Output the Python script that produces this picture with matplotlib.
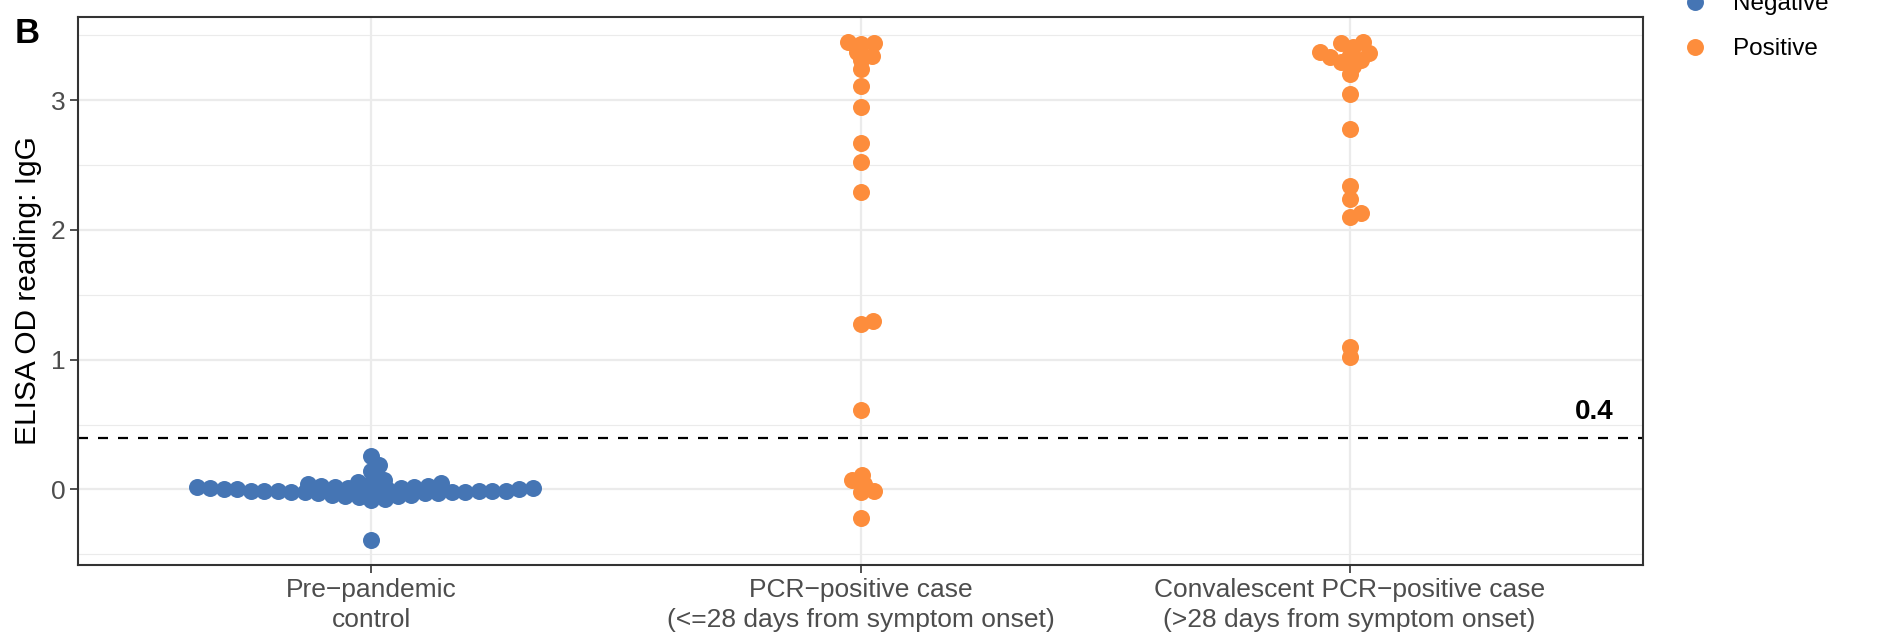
import matplotlib
matplotlib.use('Agg')
import matplotlib.pyplot as plt
from matplotlib.lines import Line2D
import numpy as np

plt.rcParams['font.family'] = ['Liberation Sans', 'DejaVu Sans']

groups = ['Pre\u2212pandemic\ncontrol',
          'PCR\u2212positive case\n(<=28 days from symptom onset)',
          'Convalescent PCR\u2212positive case\n(>28 days from symptom onset)']
status = ['Negative', 'Positive', 'Positive']

prepandemic = [-0.39, -0.08, -0.07, -0.06, -0.05, -0.05, -0.04, -0.04, -0.03, -0.03,
               -0.03, -0.02, -0.02, -0.02, -0.02, -0.02, -0.01, -0.01, -0.01, -0.01,
               -0.01, -0.01, 0.00, 0.00, 0.00, 0.00, 0.00, 0.01, 0.01, 0.01,
               0.01, 0.02, 0.02, 0.02, 0.03, 0.03, 0.04, 0.05, 0.05, 0.06,
               0.07, 0.14, 0.19, 0.26]
pcr_early = [3.45, 3.44, 3.43, 3.37, 3.34, 3.31, 3.24, 3.11, 2.95, 2.67,
             2.52, 2.29, 1.295, 1.275, 0.61, 0.11, 0.07, 0.04, -0.015, -0.02,
             -0.22]
convalescent = [3.45, 3.44, 3.41, 3.37, 3.36, 3.35, 3.33, 3.31, 3.29, 3.26,
                3.20, 3.05, 2.78, 2.34, 2.24, 2.13, 2.10, 1.10, 1.02]
values = [prepandemic, pcr_early, convalescent]

colors = {'Negative': '#4575B4', 'Positive': '#FD8D3C'}
cutoff = 0.4


def swarm(ypix, sx, sy):
    # beeswarm "swarm" placement, ascending priority, offsets in pixels
    order = np.argsort(ypix, kind='stable')
    px, py = [], []
    off = np.zeros(len(ypix))
    for i in order:
        yi = ypix[i]
        cands = [0.0]
        for x0, y0 in zip(px, py):
            d = (yi - y0) / sy
            if abs(d) < 1:
                w = np.sqrt(1 - d * d) * sx
                cands += [x0 + w, x0 - w]
        ok = [c for c in cands
              if all(((c - x0) / sx) ** 2 + ((yi - y0) / sy) ** 2 >= 0.999
                     for x0, y0 in zip(px, py))]
        best = min(ok, key=abs)
        off[i] = best
        px.append(best)
        py.append(yi)
    return off


fig = plt.figure(figsize=(18.84, 6.38), dpi=100)
ax = fig.add_axes([0.0414, 0.1144, 0.8307, 0.859])
ax.set_xlim(0.4, 3.6)
ax.set_ylim(-0.582, 3.64)

ax.set_yticks([0, 1, 2, 3])
ax.set_yticks([-0.5, 0.5, 1.5, 2.5, 3.5], minor=True)
ax.set_xticks([1, 2, 3])
ax.set_xticklabels(groups, linespacing=1.35)
ax.grid(True, which='major', color='#EBEBEB', linewidth=1.6)
ax.grid(True, which='minor', axis='y', color='#EBEBEB', linewidth=0.8)
ax.set_axisbelow(True)
ax.tick_params(which='minor', length=0)
ax.tick_params(which='major', length=6, width=1.2, color='#333333',
               labelcolor='#4D4D4D', labelsize=19, pad=3)
for s in ax.spines.values():
    s.set_color('#333333')
    s.set_linewidth(1.5)

ax.axhline(cutoff, color='black', linewidth=1.6, linestyle=(0, (4.5, 4.5)), zorder=2)
ax.text(3.5, 0.6, '0.4', fontsize=20, fontweight='bold', ha='center', va='center')

# pixel scale of the axes for the swarm spacing
p0 = ax.transData.transform((0, 0))
p1 = ax.transData.transform((1, 1))
xs, ys = p1[0] - p0[0], p1[1] - p0[1]
for k, vals in enumerate(values):
    v = np.array(vals)
    off = swarm(v * ys, 13.6, 8.0) / xs
    ax.scatter(k + 1 + off, v, s=150, color=colors[status[k]], linewidths=0, zorder=3)

ax.set_ylabel('ELISA OD reading: IgG', fontsize=21.5, labelpad=6)
fig.text(0.008, 0.9326, 'B', fontsize=25, fontweight='bold', ha='left', va='baseline')

handles = [Line2D([], [], marker='o', linestyle='', markersize=12.2,
                  color=colors[n], markeredgewidth=0) for n in ['Negative', 'Positive']]
ax.legend(handles, ['Negative', 'Positive'], loc='center left',
          bbox_to_anchor=(0.887, 0.958), bbox_transform=fig.transFigure,
          frameon=False, fontsize=17.5, labelspacing=0.95, handletextpad=0.56,
          borderpad=0, borderaxespad=0)

fig.savefig('out.png', dpi=100)
